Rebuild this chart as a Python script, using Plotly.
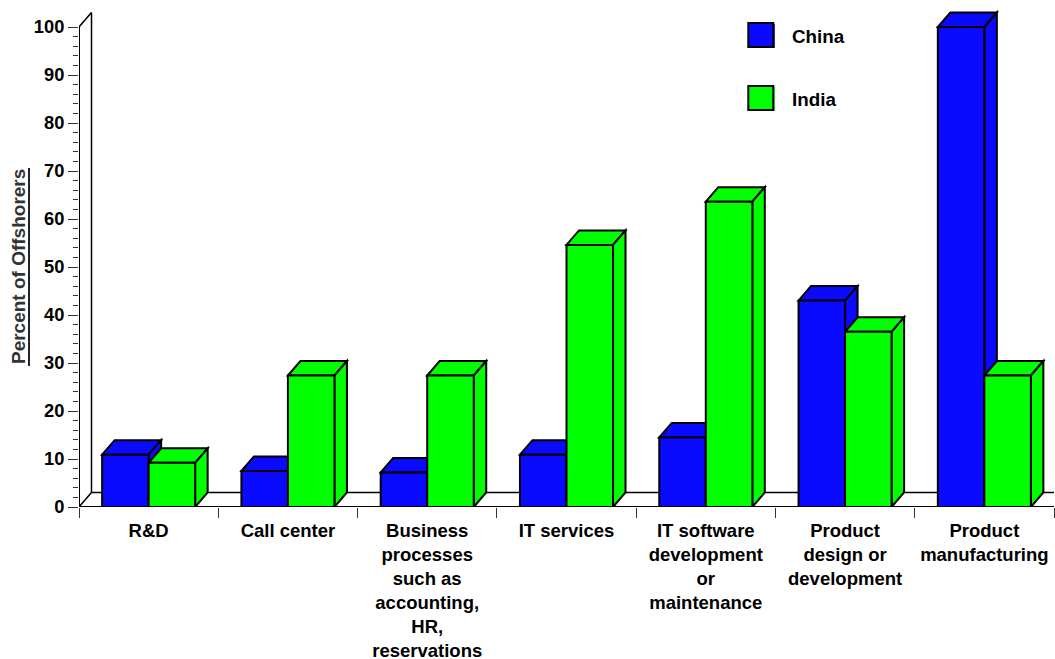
import plotly.graph_objects as go

categories = ["R&D", "Call center", "Business<br>processes<br>such as<br>accounting,<br>HR,<br>reservations",
              "IT services", "IT software<br>development<br>or<br>maintenance",
              "Product<br>design or<br>development", "Product<br>manufacturing"]
china = [10.9, 7.5, 7.2, 10.9, 14.5, 43, 100]
india = [9.2, 27.4, 27.4, 54.6, 63.6, 36.5, 27.4]
y_ticks = list(range(0, 101, 10))
y_minor = [v for v in range(0, 101, 2) if v % 10]

BLUE = "#0A0AFF"
GREEN = "#00FF00"
FONT = "Liberation Sans"

# Plot-area geometry in pixels
W, H = 1055, 659
LEFT, RIGHT, Y0 = 79, 1054.3, 507
PX_PER_UNIT = 4.8
PX_PER_CAT = (RIGHT - LEFT) / len(categories)
Y_TOP = Y0 / PX_PER_UNIT

# Oblique depth of the pseudo-3D extrusion, in axis units
DX = 12.5 / PX_PER_CAT
DY = 14.5 / PX_PER_UNIT
BAR_W = 0.334


def paper_x(px):
    return (px - LEFT) / (RIGHT - LEFT)


def paper_y(px):
    return 1 - px / Y0


def poly(points, fill="rgba(0,0,0,0)", width=2):
    path = "M " + " L ".join(f"{x:.4f},{y:.4f}" for x, y in points) + " Z"
    return dict(type="path", xref="x", yref="y", path=path, fillcolor=fill,
                line=dict(color="black", width=width), layer="below")


def seg(x0, y0, x1, y1, width=2, layer="below"):
    return dict(type="line", xref="x", yref="y", x0=x0, y0=y0, x1=x1, y1=y1,
                line=dict(color="black", width=width), layer=layer)


def box(x0, y0, x1, y1, fill="rgba(0,0,0,0)", width=2):
    return dict(type="rect", xref="paper", yref="paper",
                x0=paper_x(x0), x1=paper_x(x1), y0=paper_y(y0), y1=paper_y(y1),
                fillcolor=fill, line=dict(color="black", width=width), layer="above")


shapes = [
    # Back wall and floor
    seg(-0.5, 100, -0.5 + DX, 100 + DY, 1.5),
    seg(-0.5 + DX, DY, -0.5 + DX, 100 + DY, 1.5),
    seg(-0.5 + DX, DY, 6.5, DY, 1.5),
    seg(-0.5, 0, -0.5 + DX, DY, 1.5),
]

# Top and side faces of each column, painted left to right
for i in range(len(categories)):
    for offset, value, color in ((-BAR_W / 2, china[i], BLUE), (BAR_W / 2, india[i], GREEN)):
        xl = i + offset - BAR_W / 2
        xr = i + offset + BAR_W / 2
        shapes.append(poly([(xl, value), (xl + DX, value + DY), (xr + DX, value + DY), (xr, value)], color))
        shapes.append(poly([(xr, value), (xr + DX, value + DY), (xr + DX, DY), (xr, 0)], color))

# Axis lines sit on top of the columns' base edges
shapes.append(seg(-0.5, 0, -0.5, 100, layer="above"))
shapes.append(seg(-0.5, 0, 6.5, 0, layer="above"))

# Legend swatches and the rule under the axis title
shapes += [
    box(749, 24, 775, 48, BLUE, 0),
    box(748.5, 23, 773.5, 47),
    box(749, 87, 775, 111, GREEN, 0),
    box(748.5, 86, 773.5, 110),
    dict(type="line", xref="paper", yref="paper", x0=paper_x(29), x1=paper_x(29),
         y0=paper_y(168), y1=paper_y(366), line=dict(color="#222222", width=2), layer="above"),
]

annotations = [
    dict(text="<b>China</b>", x=paper_x(790), y=paper_y(36), xanchor="left", yanchor="middle"),
    dict(text="<b>India</b>", x=paper_x(790), y=paper_y(99), xanchor="left", yanchor="middle"),
]
for a in annotations:
    a.update(xref="paper", yref="paper", showarrow=False, font=dict(family=FONT, size=18.8, color="black"))
annotations.append(dict(text="<b>Percent of Offshorers</b>", xref="paper", yref="paper",
                        x=paper_x(18), y=paper_y(267), textangle=-90, showarrow=False,
                        xanchor="center", yanchor="middle",
                        font=dict(family=FONT, size=19, color="#333333")))

fig = go.Figure()
fig.add_bar(x=list(range(len(categories))), y=china, name="China", offset=-BAR_W, width=BAR_W,
            marker=dict(color=BLUE, line=dict(color="black", width=2)), showlegend=False)
fig.add_bar(x=list(range(len(categories))), y=india, name="India", offset=0, width=BAR_W,
            marker=dict(color=GREEN, line=dict(color="black", width=2)), showlegend=False)

fig.update_layout(
    width=W, height=H, autosize=False, barmode="overlay",
    margin=dict(l=LEFT, r=W - RIGHT, t=0, b=H - Y0, pad=0, autoexpand=False),
    plot_bgcolor="white", paper_bgcolor="white", showlegend=False,
    shapes=shapes, annotations=annotations,
    font=dict(family=FONT, color="black"),
)
fig.update_xaxes(
    automargin=False,
    range=[-0.5, 6.5], tickvals=list(range(len(categories))), ticktext=[f"<b>{c}</b>" for c in categories],
    ticks="outside", ticklen=7, tickcolor="rgba(0,0,0,0)", tickangle=0,
    tickfont=dict(family=FONT, size=18.5, color="black"),
    showgrid=False, zeroline=False, showline=False,
    minor=dict(tickvals=[i - 0.5 for i in range(len(categories) + 1)], ticks="outside",
               ticklen=10, tickcolor="#333333", tickwidth=1),
)
fig.update_yaxes(
    automargin=False,
    range=[0, Y_TOP], tickvals=y_ticks, ticktext=[f"<b>{v}</b>" for v in y_ticks],
    ticks="outside", ticklen=10, tickcolor="#333333", tickwidth=1,
    tickfont=dict(family=FONT, size=18.3, color="black"),
    showgrid=False, zeroline=False, showline=False,
    minor=dict(tickvals=y_minor, ticks="outside", ticklen=5, tickcolor="#333333", tickwidth=1),
)
fig.write_html("out.html")
